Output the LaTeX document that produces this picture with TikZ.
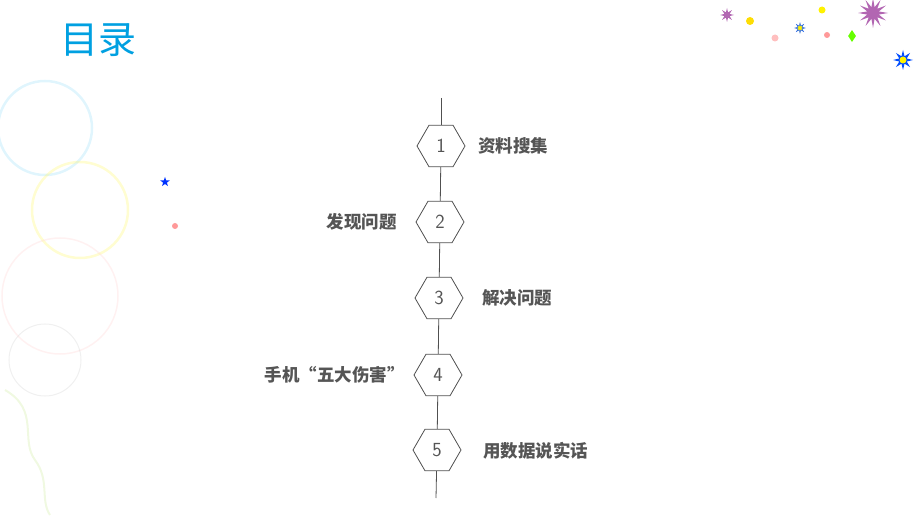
\documentclass[tikz,border=0pt]{standalone}
\usepackage{fontspec}
\newfontfamily\cjk{Noto Sans CJK SC}
\usetikzlibrary{shapes.geometric,shapes.misc}
\definecolor{titleblue}{RGB}{0,160,225}
\definecolor{txtgray}{RGB}{85,85,85}
\definecolor{linegray}{RGB}{80,80,80}
\tikzset{
  hexa/.style={regular polygon,regular polygon sides=6,draw=linegray,line width=0.8pt,fill=white,minimum width=48pt,inner sep=0pt,font=\fontsize{20}{20}\selectfont\sffamily,text=txtgray},
  lbl/.style={font=\cjk\bfseries\fontsize{17.5}{17.5}\selectfont,text=txtgray,inner sep=0pt},
  deco/.style={line width=2.5pt,opacity=0.3},
  starr/.style={star,star points=#1,star point ratio=2.5,inner sep=0pt}
}
\begin{document}
\begin{tikzpicture}[x=1pt,y=-1pt]
\useasboundingbox (0,0) rectangle (920,518);
% decorative circles
\draw[deco,draw=cyan!40] (45,128) circle (47);
\draw[deco,draw=yellow!60] (80,210) circle (48);
\draw[deco,draw=pink!70,line width=1.5pt] (60,296) circle (58);
\draw[deco,draw=gray!40,line width=1pt] (45,360) circle (36);
\draw[deco,draw=yellow!50!green!40,line width=2pt] (5,390) .. controls (40,410) and (20,440) .. (35,460) .. controls (50,480) and (40,500) .. (50,515);
% stars
\node[starr=5,fill=blue!80!cyan,minimum size=10pt] (s1) at (165,182) {};
\node[circle,fill=pink!80!red,minimum size=6pt,inner sep=0pt] (s2) at (175,226) {};
\node[starr=8,fill=violet!60,minimum size=14pt] (s3) at (727,15) {};
\node[circle,fill=yellow!80!orange,minimum size=8pt,inner sep=0pt] (s4) at (750,21) {};
\node[circle,fill=pink,minimum size=7pt,inner sep=0pt] (s5) at (775,38) {};
\node[starr=8,draw=blue!70!cyan,fill=yellow,minimum size=10pt] (s6) at (800,28) {};
\node[circle,fill=yellow,minimum size=7pt,inner sep=0pt] (s7) at (822,10) {};
\node[circle,fill=pink!80!red,minimum size=6pt,inner sep=0pt] (s8) at (827,35) {};
\node[diamond,fill=green!60!yellow,minimum width=8pt,minimum height=12pt,inner sep=0pt] (s9) at (852,36) {};
\node[starr=12,fill=violet!60,minimum size=30pt] (s10) at (873,13) {};
\node[starr=8,fill=blue!70!cyan,minimum size=20pt] (s11) at (903,60) {};
\node[circle,fill=yellow,minimum size=7pt,inner sep=0pt] at (903,60) {};
% title
\node[font=\cjk\fontsize{38}{38}\selectfont,text=titleblue,anchor=west,inner sep=0pt] (title) at (60,40) {目录};
% timeline
\coordinate (top) at (441,98);
\coordinate (bot) at (436,498);
\node[hexa] (h1) at (441,146) {1};
\node[hexa] (h2) at (440,222) {2};
\node[hexa] (h3) at (439,298) {3};
\node[hexa] (h4) at (438,375) {4};
\node[hexa] (h5) at (437,450) {5};
\begin{scope}[linegray,line width=0.8pt]
\draw (top) -- (h1);
\draw (h1) -- (h2);
\draw (h2) -- (h3);
\draw (h3) -- (h4);
\draw (h4) -- (h5);
\draw (h5) -- (bot);
\end{scope}
\node[lbl,anchor=west] (l1) at (478,146) {资料搜集};
\node[lbl,anchor=east] (l2) at (397,222) {发现问题};
\node[lbl,anchor=west] (l3) at (482,298) {解决问题};
\node[lbl,anchor=east] (l4) at (405,375) {手机“五大伤害”};
\node[lbl,anchor=west] (l5) at (483,451) {用数据说实话};
\end{tikzpicture}
\end{document}
